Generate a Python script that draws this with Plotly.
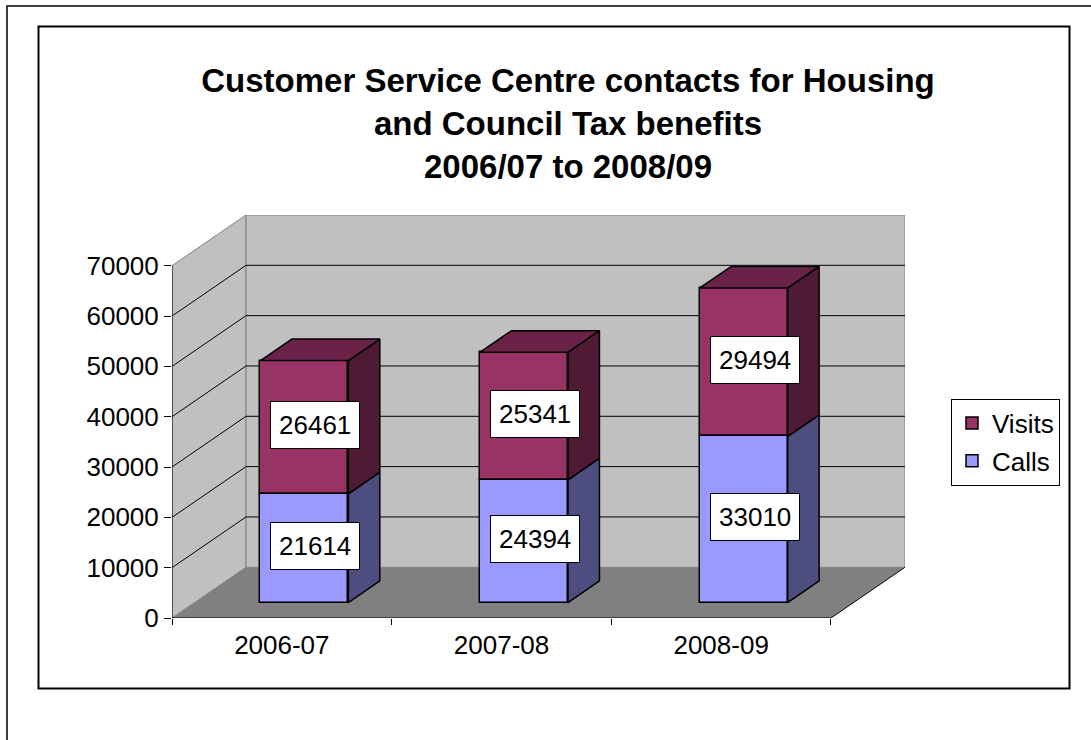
import plotly.graph_objects as go

# ---- data -------------------------------------------------------------
categories = ["2006-07", "2007-08", "2008-09"]
calls = [21614, 24394, 33010]
visits = [26461, 25341, 29494]
y_ticks = [0, 10000, 20000, 30000, 40000, 50000, 60000, 70000]
y_tick_text = [str(v) for v in y_ticks]

# ---- oblique "3-D" projection constants (in axis units) ---------------
DEPTH_X = 0.337      # floor depth along x, in category units
DEPTH_Y = 10080      # floor depth along y, in value units
BAR_W = 0.40         # bar width, in category units
BAR_FRONT = 0.305    # bars start at this fraction of the floor depth
BAR_DEPTH = 0.425    # bar depth as a fraction of the floor depth
Y_MAX = y_ticks[-1]

COL_VISITS = "#993366"
COL_VISITS_SIDE = "#4f1a34"
COL_VISITS_TOP = "#6b2249"
COL_CALLS = "#9999ff"
COL_CALLS_SIDE = "#4d4d80"
WALL = "#c0c0c0"
FLOOR = "#808080"
EDGE = "#808080"
FONT = "Liberation Sans, Arial, sans-serif"
TXT = 26

# page geometry (pixels)
W, H = 1091, 740
ML, MR, MT, MB = 172, 186, 215, 122
PW, PH = W - ML - MR, H - MT - MB


def px(x):
    return (x - ML) / PW


def py(y):
    return (H - MB - y) / PH


xpos = list(range(len(categories)))
x0, x1 = -0.5, len(categories) - 0.5
fx, fy = BAR_FRONT * DEPTH_X, BAR_FRONT * DEPTH_Y
bx, by = BAR_DEPTH * DEPTH_X, BAR_DEPTH * DEPTH_Y

fig = go.Figure()

# front faces of the stacked bars
fig.add_trace(go.Bar(
    name="Visits", x=[p + fx for p in xpos], y=visits,
    base=[fy + c for c in calls], width=BAR_W, legendgroup="visits",
    marker=dict(color=COL_VISITS, line=dict(color="black", width=1.5)),
    hoverinfo="skip",
))
fig.add_trace(go.Bar(
    name="Calls", x=[p + fx for p in xpos], y=calls,
    base=[fy] * len(calls), width=BAR_W, legendgroup="calls",
    marker=dict(color=COL_CALLS, line=dict(color="black", width=1.5)),
    hoverinfo="skip",
))


def face(xs, ys, color):
    fig.add_trace(go.Scatter(
        x=xs + [xs[0]], y=ys + [ys[0]], mode="lines", fill="toself",
        fillcolor=color, line=dict(color="black", width=1.5),
        showlegend=False, hoverinfo="skip",
    ))


# side and top faces
for p, c, v in zip(xpos, calls, visits):
    xl = p - BAR_W / 2 + fx
    xr = p + BAR_W / 2 + fx
    for lo, hi, col in ((0, c, COL_CALLS_SIDE), (c, c + v, COL_VISITS_SIDE)):
        face([xr, xr + bx, xr + bx, xr],
             [fy + lo, fy + lo + by, fy + hi + by, fy + hi], col)
    top = fy + c + v
    face([xl, xr, xr + bx, xl + bx], [top, top, top + by, top + by],
         COL_VISITS_TOP)

# value labels
annotations = []
for p, c, v in zip(xpos, calls, visits):
    for lo, val in ((0, c), (c, v)):
        annotations.append(dict(
            x=p + fx, y=fy + lo + val / 2, xref="x", yref="y",
            text=str(val), showarrow=False, xshift=11, yshift=2,
            font=dict(family=FONT, size=TXT, color="black"),
            bgcolor="white", bordercolor="black", borderwidth=1,
            borderpad=8,
        ))

# walls, floor and gridlines
shapes = [
    dict(type="path", xref="x", yref="y", layer="below",
         path=f"M{x0},0 L{x0 + DEPTH_X},{DEPTH_Y} L{x0 + DEPTH_X},{Y_MAX + DEPTH_Y} L{x0},{Y_MAX} Z",
         fillcolor=WALL, line=dict(color=EDGE, width=1)),
    dict(type="rect", xref="x", yref="y", layer="below",
         x0=x0 + DEPTH_X, x1=x1 + DEPTH_X, y0=DEPTH_Y, y1=Y_MAX + DEPTH_Y,
         fillcolor=WALL, line=dict(color=EDGE, width=1)),
    dict(type="path", xref="x", yref="y", layer="below",
         path=f"M{x0},0 L{x1},0 L{x1 + DEPTH_X},{DEPTH_Y} L{x0 + DEPTH_X},{DEPTH_Y} Z",
         fillcolor=FLOOR, line=dict(width=0)),
]
for v in y_ticks[1:-1]:
    shapes.append(dict(
        type="path", xref="x", yref="y", layer="below",
        path=f"M{x0},{v} L{x0 + DEPTH_X},{v + DEPTH_Y} L{x1 + DEPTH_X},{v + DEPTH_Y}",
        line=dict(color="black", width=1)))
shapes += [
    dict(type="line", xref="x", yref="y", layer="below",
         x0=x1, y0=0, x1=x1 + DEPTH_X, y1=DEPTH_Y,
         line=dict(color="black", width=1)),
    dict(type="line", xref="x", yref="y", layer="below",
         x0=x0, y0=0, x1=x1, y1=0, line=dict(color="black", width=1.2)),
    dict(type="line", xref="x", yref="y", layer="below",
         x0=x0, y0=0, x1=x0, y1=Y_MAX, line=dict(color="black", width=1)),
]

# chart frames
shapes += [
    dict(type="rect", xref="paper", yref="paper",
         x0=px(7), y0=py(6), x1=px(1110), y1=py(760),
         line=dict(color="black", width=1.5)),
    dict(type="rect", xref="paper", yref="paper",
         x0=px(38.5), y0=py(26.5), x1=px(1069.5), y1=py(688.5),
         line=dict(color="black", width=2)),
]

fig.update_layout(
    width=W, height=H, autosize=False,
    margin=dict(l=ML, r=MR, t=MT, b=MB, pad=0),
    paper_bgcolor="white", plot_bgcolor="rgba(0,0,0,0)",
    barmode="overlay", bargap=0,
    font=dict(family=FONT, color="black"),
    title=dict(
        text="<b>Customer Service Centre contacts for Housing<br>"
             "and Council Tax benefits<br>2006/07 to 2008/09</b>",
        x=568 / W, xanchor="center", xref="container",
        y=1 - 92 / H, yanchor="middle", yref="container",
        font=dict(family=FONT, size=33, color="black"),
    ),
    xaxis=dict(
        range=[x0, x1 + DEPTH_X], showgrid=False, zeroline=False,
        showline=False, tickvals=xpos, ticktext=categories, ticks="",
        ticklabelstandoff=9,
        tickfont=dict(family=FONT, size=TXT, color="black"),
        minor=dict(tickvals=[x0 + i for i in range(len(categories) + 1)],
                   ticks="outside", ticklen=6, tickcolor="black",
                   tickwidth=1),
        fixedrange=True,
    ),
    yaxis=dict(
        range=[0, Y_MAX + DEPTH_Y], showgrid=False, zeroline=False,
        showline=False, tickvals=y_ticks, ticktext=y_tick_text,
        ticks="outside", ticklen=7, tickcolor="black", tickwidth=1,
        tickfont=dict(family=FONT, size=TXT, color="black"),
        fixedrange=True,
    ),
    legend=dict(
        x=px(951), y=py(398.5), xref="paper", yref="paper",
        xanchor="left", yanchor="top",
        bgcolor="white", bordercolor="black", borderwidth=1,
        font=dict(family=FONT, size=26, color="black"),
        tracegroupgap=1, traceorder="grouped", itemwidth=30,
    ),
    shapes=shapes,
    annotations=annotations,
)

fig.write_html("out.html")
